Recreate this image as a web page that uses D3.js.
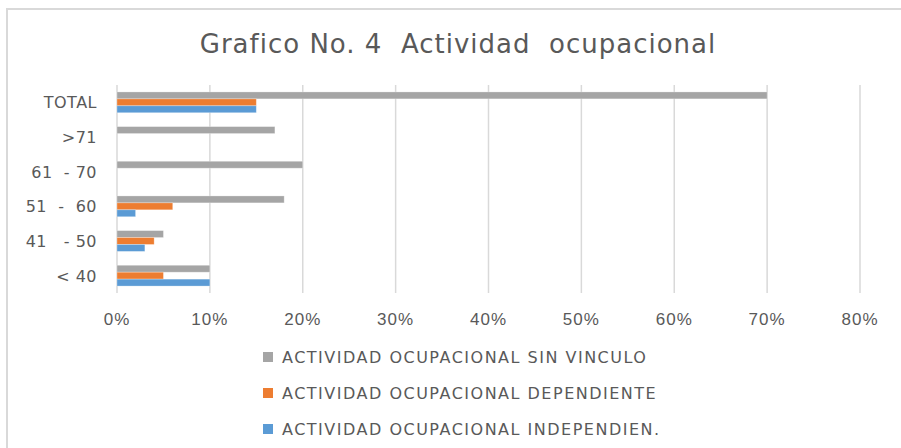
<!DOCTYPE html>
<html>
<head>
<meta charset="utf-8">
<script src="https://d3js.org/d3.v7.min.js"></script>
<style>
  body { margin: 0; background: #fff; }
  svg text { fill: #595959; }
</style>
</head>
<body>
<svg id="canvas" width="901" height="448"></svg>
<script>
let categories = ['TOTAL', '>71', '61  - 70', '51  -  60', '41   - 50', '< 40'];
let series = ['ACTIVIDAD OCUPACIONAL SIN VINCULO', 'ACTIVIDAD OCUPACIONAL DEPENDIENTE', 'ACTIVIDAD OCUPACIONAL INDEPENDIEN.'];
let sinVinculo = [70, 17, 20, 18, 5, 10];
let dependiente = [15, 0, 0, 6, 4, 5];
let independien = [15, 0, 0, 2, 3, 10];
let xTicks = [0, 10, 20, 30, 40, 50, 60, 70, 80];
let colors = ['#a5a5a5', '#ed7d31', '#5b9bd5'];

let values = [sinVinculo, dependiente, independien];
let svg = d3.select('#canvas');

// chart frame
svg.append('rect')
  .attr('x', 7).attr('y', 9)
  .attr('width', 920).attr('height', 460)
  .attr('fill', 'none')
  .attr('stroke', '#d9d9d9')
  .attr('stroke-width', 2);

svg.append('text')
  .attr('x', 458).attr('y', 53)
  .attr('text-anchor', 'middle')
  .style('font-family', 'DejaVu Sans')
  .style('font-size', '26px')
  .style('letter-spacing', '1px')
  .style('white-space', 'pre')
  .text('Grafico No. 4  Actividad  ocupacional');

let x = d3.scaleLinear().domain([0, 80]).range([117, 860]);
let y = d3.scaleBand().domain(categories).range([85, 293]).paddingInner(0.4).paddingOuter(0.2);
let inner = d3.scaleBand().domain(series).range([0, y.bandwidth()]);

// gridlines
svg.append('g')
  .selectAll('line')
  .data(xTicks)
  .enter()
  .append('line')
  .attr('x1', d => x(d)).attr('x2', d => x(d))
  .attr('y1', 85).attr('y2', 293)
  .attr('stroke', '#d9d9d9')
  .attr('stroke-width', 1.5);

// bars
series.forEach((s, si) => {
  svg.append('g')
    .selectAll('rect')
    .data(values[si].map((v, i) => ({cat: categories[i], v: v})).filter(d => d.v > 0))
    .enter()
    .append('rect')
    .attr('x', x(0))
    .attr('y', d => y(d.cat) + inner(s))
    .attr('height', inner.bandwidth())
    .attr('width', d => x(d.v) - x(0))
    .attr('fill', colors[si])
    .attr('stroke', '#fff')
    .attr('stroke-opacity', 0.35)
    .attr('stroke-width', 0.8);
});

// y labels
svg.append('g')
  .selectAll('text')
  .data(categories)
  .enter()
  .append('text')
  .attr('x', 97)
  .attr('y', d => y(d) + y.bandwidth() / 2 + 6)
  .attr('text-anchor', 'end')
  .style('font-family', 'DejaVu Sans')
  .style('font-size', '16px')
  .style('letter-spacing', '0.5px')
  .style('white-space', 'pre')
  .text(d => d);

// x tick labels
svg.append('g')
  .selectAll('text')
  .data(xTicks)
  .enter()
  .append('text')
  .attr('x', d => x(d))
  .attr('y', 325)
  .attr('text-anchor', 'middle')
  .style('font-family', 'Liberation Sans Narrow, Liberation Sans')
  .style('font-size', '17px')
  .style('letter-spacing', '1px')
  .text(d => d + '%');

// legend
let legend = svg.append('g')
  .selectAll('g')
  .data(series)
  .enter()
  .append('g')
  .attr('transform', (d, i) => 'translate(263,' + (357 + i * 36) + ')');

legend.append('rect')
  .attr('x', 0).attr('y', -5)
  .attr('width', 10).attr('height', 10)
  .attr('fill', (d, i) => colors[i]);

legend.append('text')
  .attr('x', 19)
  .attr('y', 6)
  .style('font-family', 'DejaVu Sans')
  .style('font-size', '16px')
  .style('letter-spacing', '1.5px')
  .text(d => d);
</script>
</body>
</html>
